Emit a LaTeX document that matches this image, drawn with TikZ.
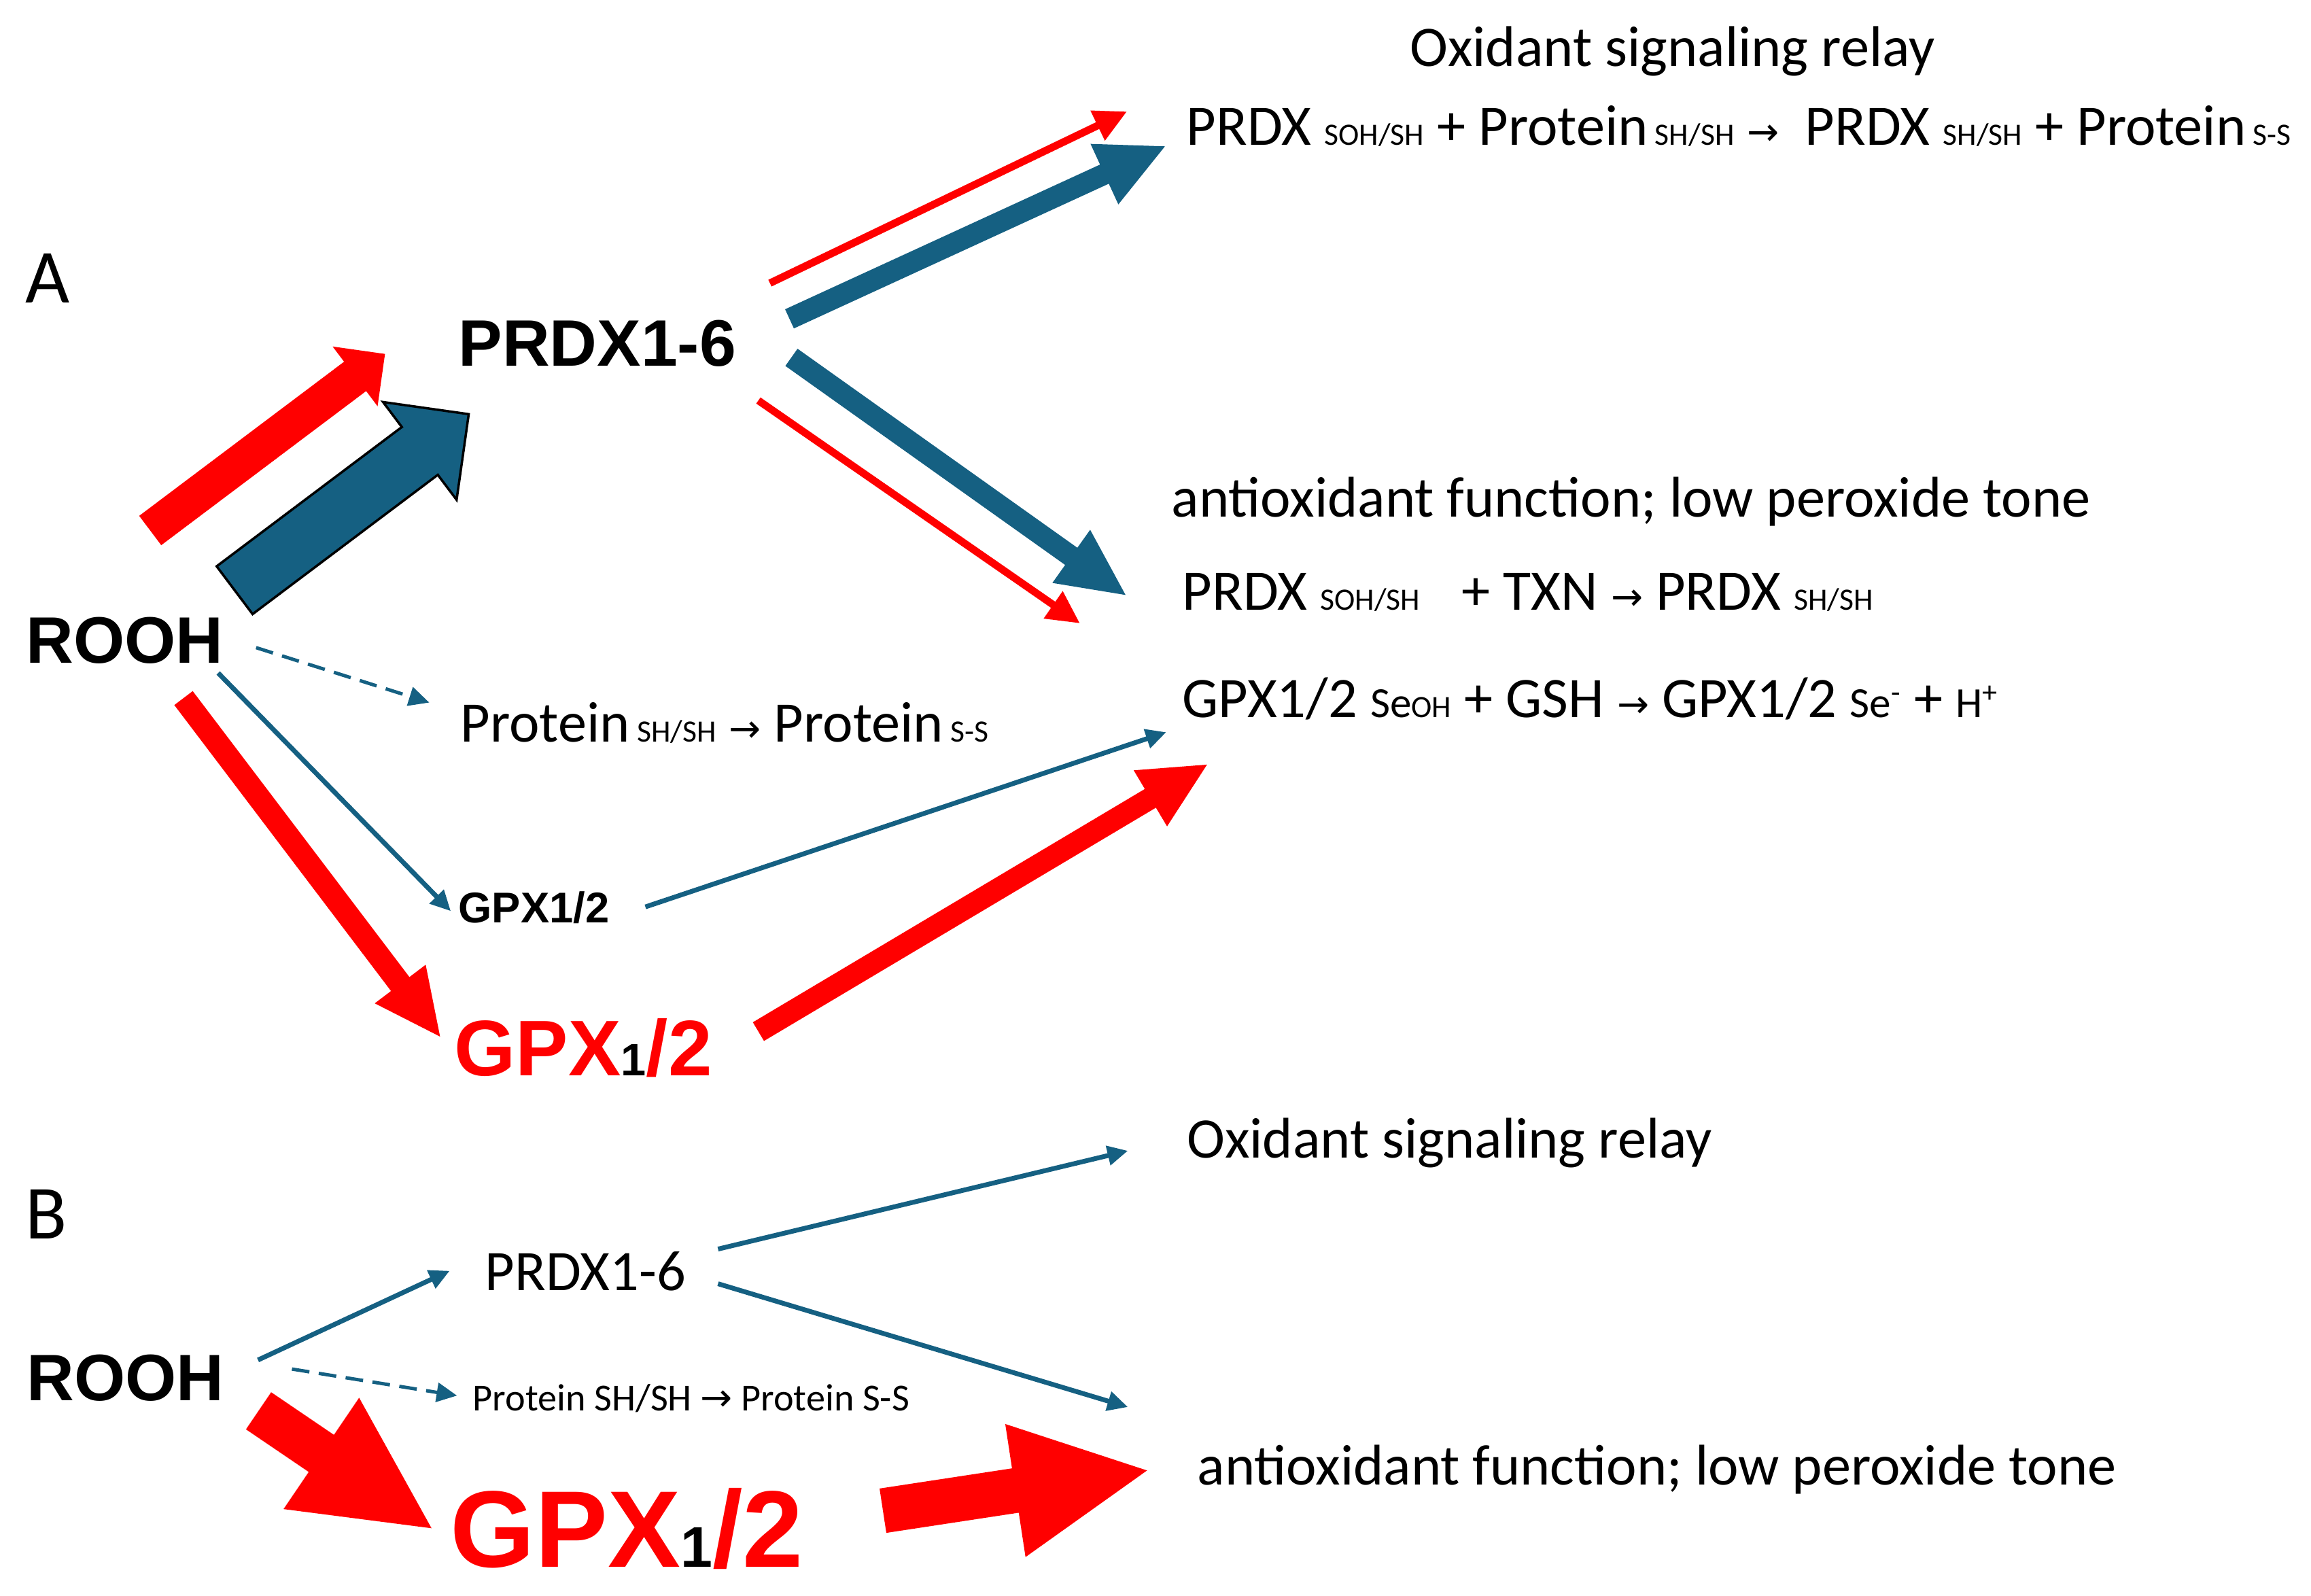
\documentclass[tikz,border=0pt]{standalone}
\usepackage{fontspec}
\setmainfont{Carlito}
\newfontfamily\headfont{Liberation Sans}
\newfontfamily\arrowfont{DejaVu Sans}
\usetikzlibrary{calc,arrows.meta}
\definecolor{prxblue}{HTML}{156082}
\definecolor{prxred}{HTML}{FF0000}

\newcommand{\subtxt}[1]{{\fontsize{13}{15}\selectfont #1}}
\newcommand{\medtxt}[1]{{\fontsize{18}{20}\selectfont #1}}
\newcommand{\toarr}{{\arrowfont\fontsize{16}{18}\selectfont →}}
% block arrow: style, tail, tip, shaft half width, head half width, head length
\newcommand{\blockarrow}[6]{%
  \coordinate (ba-a) at (#2);
  \coordinate (ba-b) at (#3);
  \coordinate (ba-h) at ($(ba-b)!#6!(ba-a)$);
  \path[#1] ($(ba-a)!#4!90:(ba-b)$) -- ($(ba-h)!#4!90:(ba-b)$)
    -- ($(ba-h)!#5!90:(ba-b)$) -- (ba-b) -- ($(ba-h)!#5!-90:(ba-b)$)
    -- ($(ba-h)!#4!-90:(ba-b)$) -- ($(ba-a)!#4!-90:(ba-b)$) -- cycle;
}

\tikzset{
  lbl/.style={anchor=base west, inner sep=0pt, font=\fontsize{24}{28}\selectfont},
  panel/.style={anchor=base west, inner sep=0pt, font=\fontsize{32}{36}\selectfont},
  heavy/.style={anchor=base west, inner sep=0pt, font=\headfont\bfseries\fontsize{#1}{#1}\selectfont},
  heavy/.default=27.5,
  redfill/.style={fill=prxred},
  bluefill/.style={fill=prxblue},
  blueedge/.style={fill=prxblue, draw=black, line width=1pt},
  thinblue/.style={draw=prxblue, line width=0.07cm, -{Triangle[length=0.3cm,width=0.28cm]}},
  thinred/.style={draw=prxred, line width=0.11cm, -{Triangle[length=0.48cm,width=0.46cm]}},
  dashblue/.style={thinblue, line width=0.05cm, dash pattern=on 0.26cm off 0.14cm}
}

\begin{document}
\begin{tikzpicture}
  \useasboundingbox (0,0) rectangle (34,-23.48);

  % panel A
  \node[panel] (LA) at (0.37,-4.46) {A};
  \node[heavy] (ROOHa) at (0.38,-9.76) {ROOH};
  \node[heavy] (PRDXa) at (6.74,-5.39) {PRDX1-6};
  \node[lbl] (PROTa) at (6.77,-10.92) {Protein\subtxt{ SH/SH} \toarr{} Protein\subtxt{ S-S}};
  \node[heavy=18] (GPXs) at (6.74,-13.57) {GPX1/2};
  \node[heavy=33, text=prxred] (GPXa) at (6.68,-15.82) {GPX{\color{black}\fontsize{19}{19}\selectfont 1}/2};
  \node[lbl] (OXIa) at (20.74,-0.98) {Oxidant signaling relay};
  \node[lbl] (EQ1) at (17.45,-2.14) {PRDX \subtxt{SOH/SH} + Protein\subtxt{ SH/SH} \toarr{}\ \ PRDX \subtxt{SH/SH} + Protein\subtxt{ S-S}};
  \node[lbl] (ANTIa) at (17.23,-7.61) {antioxidant function; low peroxide tone};
  \node[lbl] (EQ2) at (17.39,-8.98) {PRDX \subtxt{SOH/SH}\hspace{0.5em} + TXN \toarr{} PRDX \subtxt{SH/SH}};
  \node[lbl] (EQ3) at (17.39,-10.56) {GPX1/2 \medtxt{Se}\subtxt{OH} + GSH \toarr{} GPX1/2 \medtxt{Se\textsuperscript{-}} + \medtxt{H\textsuperscript{+}}};

  \blockarrow{redfill}{[shift={(1.83,1.955)}]ROOHa.base west}{[shift={(-1.076,0.183)}]PRDXa.base west}{0.27cm}{0.55cm}{0.55cm}
  \blockarrow{blueedge}{[shift={(3.072,1.077)}]ROOHa.base west}{[shift={(0.156,-0.703)}]PRDXa.base west}{0.44cm}{0.9cm}{0.9cm}
  \draw[thinred] ([shift={(4.587,1.224)}]PRDXa.base west) -- ([shift={(-0.869,0.5)}]EQ1.base west);
  \blockarrow{bluefill}{[shift={(4.875,0.699)}]PRDXa.base west}{[shift={(-0.311,-0.013)}]EQ1.base west}{0.155cm}{0.49cm}{0.98cm}
  \blockarrow{bluefill}{[shift={(4.904,0.133)}]PRDXa.base west}{[shift={(-0.831,0.227)}]EQ2.base west}{0.155cm}{0.48cm}{0.98cm}
  \draw[thinred] ([shift={(4.417,-0.502)}]PRDXa.base west) -- ([shift={(-1.501,-0.191)}]EQ2.base west);
  \draw[dashblue] ([shift={(3.388,0.232)}]ROOHa.base west) -- ([shift={(-0.454,0.584)}]PROTa.base west);
  \draw[thinblue] ([shift={(2.83,-0.141)}]ROOHa.base west) -- ([shift={(-0.108,0.166)}]GPXs.base west);
  \blockarrow{redfill}{[shift={(2.32,-0.51)}]ROOHa.base west}{[shift={(-0.206,0.57)}]GPXa.base west}{0.17cm}{0.47cm}{0.97cm}
  \draw[thinblue] ([shift={(2.755,0.228)}]GPXs.base west) -- ([shift={(-0.232,-0.212)}]EQ3.base west);
  \blockarrow{redfill}{[shift={(4.478,0.643)}]GPXa.base west}{[shift={(0.368,-0.689)}]EQ3.base west}{0.16cm}{0.48cm}{0.97cm}

  % panel B
  \node[panel] (LB) at (0.37,-18.22) {B};
  \node[heavy] (ROOHb) at (0.39,-20.60) {ROOH};
  \node[lbl] (PRDXb) at (7.13,-18.98) {PRDX1-6};
  \node[lbl, font=\fontsize{16}{19}\selectfont] (PROTb) at (6.95,-20.75) {Protein SH/SH \toarr{} Protein S-S};
  \node[heavy=45.6, text=prxred] (GPXb) at (6.62,-23.05) {GPX{\color{black}\fontsize{24}{24}\selectfont 1}/2};
  \node[lbl] (OXIb) at (17.46,-17.03) {Oxidant signaling relay};
  \node[lbl] (ANTIb) at (17.61,-21.84) {antioxidant function; low peroxide tone};

  \draw[thinblue] ([shift={(3.406,0.592)}]ROOHb.base west) -- ([shift={(-0.514,0.284)}]PRDXb.base west);
  \draw[thinblue] ([shift={(3.434,0.604)}]PRDXb.base west) -- ([shift={(-0.866,0.1)}]OXIb.base west);
  \draw[thinblue] ([shift={(3.434,0.094)}]PRDXb.base west) -- ([shift={(-1.016,1.14)}]ANTIb.base west);
  \draw[dashblue] ([shift={(3.905,0.459)}]ROOHb.base west) -- ([shift={(-0.226,0.218)}]PROTb.base west);
  \blockarrow{redfill}{[shift={(3.414,-0.155)}]ROOHb.base west}{[shift={(-0.271,0.567)}]GPXb.base west}{0.33cm}{0.99cm}{1.96cm}
  \blockarrow{redfill}{[shift={(6.37,0.825)}]GPXb.base west}{[shift={(-0.734,0.207)}]ANTIb.base west}{0.33cm}{0.99cm}{1.96cm}
\end{tikzpicture}
\end{document}
